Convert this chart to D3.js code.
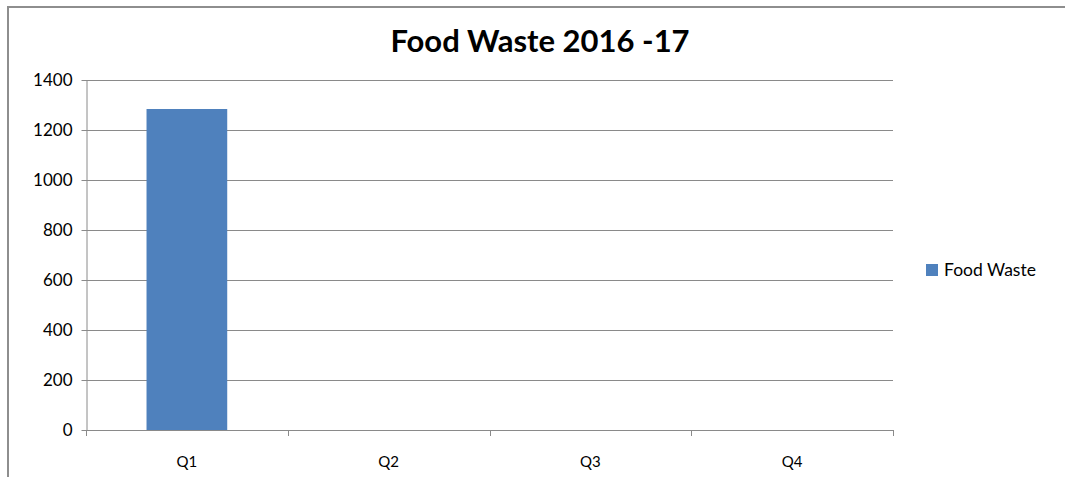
<!DOCTYPE html>
<html>
<head>
<meta charset="utf-8">
<script src="https://cdn.jsdelivr.net/npm/d3@7"></script>
<style>
  html, body { margin: 0; padding: 0; background: #fff; overflow: hidden; }
  svg { display: block; overflow: hidden; }
  text { font-family: Lato, "Open Sans", sans-serif; fill: #000; }
</style>
</head>
<body>
<svg id="chart" width="1065" height="477"></svg>
<script>
// Quarterly food waste figures
const quarters = ["Q1", "Q2", "Q3", "Q4"];
const foodWaste = [1284, 0, 0, 0];
const yTicks = [0, 200, 400, 600, 800, 1000, 1200, 1400];
const seriesName = "Food Waste";
const chartTitle = "Food Waste 2016 -17";

const svg = d3.select("#chart");
const plot = { left: 86, right: 893, top: 80, bottom: 430 };

// chart frame: only its top and left edges fall inside the view
const frame = svg.append("g").attr("stroke", "#8e8e8e").attr("stroke-width", 2);
frame.append("line").attr("x1", 7).attr("x2", 1065).attr("y1", 7).attr("y2", 7);
frame.append("line").attr("x1", 8).attr("x2", 8).attr("y1", 6).attr("y2", 477);

const x = d3.scaleBand()
  .domain(quarters)
  .range([plot.left, plot.right])
  .paddingInner(0.6)
  .paddingOuter(0.3);

const y = d3.scaleLinear()
  .domain([0, 1400])
  .range([plot.bottom, plot.top]);

// horizontal gridlines
svg.append("g")
  .selectAll("line")
  .data(yTicks.filter(d => d > 0))
  .join("line")
  .attr("x1", plot.left).attr("x2", plot.right)
  .attr("y1", d => Math.round(y(d)) + 0.5)
  .attr("y2", d => Math.round(y(d)) + 0.5)
  .attr("stroke", "#8a8a8a")
  .attr("stroke-width", 1);

// y axis
const yAxis = svg.append("g")
  .attr("transform", `translate(${plot.left + 0.5},0)`)
  .call(d3.axisLeft(y).tickValues(yTicks).tickFormat(d3.format("d"))
    .tickSize(5).tickSizeOuter(0).tickPadding(9));
yAxis.select(".domain").attr("stroke", "#8a8a8a");
yAxis.selectAll(".tick line").attr("stroke", "#8a8a8a");
yAxis.selectAll(".tick text")
  .style("font-family", "Lato, sans-serif")
  .style("font-size", "17px")
  .attr("fill", "#000");

// bars
svg.append("g")
  .selectAll("rect")
  .data(quarters.map((q, i) => ({ q, v: foodWaste[i] })))
  .join("rect")
  .attr("x", d => x(d.q))
  .attr("y", d => y(d.v))
  .attr("width", x.bandwidth())
  .attr("height", d => y(0) - y(d.v))
  .attr("fill", "#4f81bd");

// x axis baseline with category boundary ticks
const step = x.step();
const xg = svg.append("g");
xg.append("line")
  .attr("x1", plot.left).attr("x2", plot.right)
  .attr("y1", y(0) + 0.5).attr("y2", y(0) + 0.5)
  .attr("stroke", "#8a8a8a");
xg.selectAll("line.sep")
  .data(d3.range(quarters.length + 1))
  .join("line")
  .attr("class", "sep")
  .attr("x1", i => Math.round(plot.left + i * step) + 0.5)
  .attr("x2", i => Math.round(plot.left + i * step) + 0.5)
  .attr("y1", y(0)).attr("y2", y(0) + 6)
  .attr("stroke", "#8a8a8a");
xg.selectAll("text")
  .data(quarters)
  .join("text")
  .attr("x", d => x(d) + x.bandwidth() / 2)
  .attr("y", 467)
  .attr("text-anchor", "middle")
  .style("font-size", "15px")
  .text(d => d);

// title
svg.append("text")
  .attr("x", 540)
  .attr("y", 52)
  .attr("text-anchor", "middle")
  .style("font-size", "31px")
  .style("font-weight", "bold")
  .text(chartTitle);

// legend
const lg = svg.append("g").attr("transform", "translate(926,264)");
lg.append("rect").attr("width", 12).attr("height", 12).attr("fill", "#4f81bd");
lg.append("text")
  .attr("x", 18).attr("y", 12)
  .style("font-size", "17.5px")
  .text(seriesName);
</script>
</body>
</html>
